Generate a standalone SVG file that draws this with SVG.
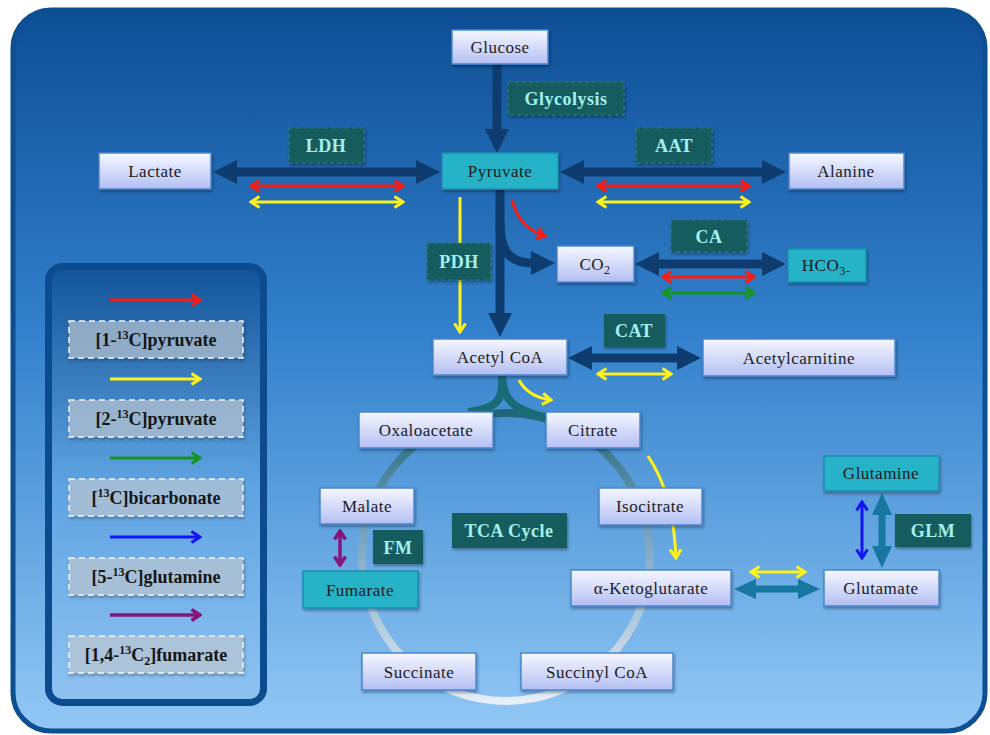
<svg xmlns="http://www.w3.org/2000/svg" width="990" height="735" viewBox="0 0 990 735">
<defs>
<linearGradient id="bg" x1="0" y1="0" x2="0" y2="1">
<stop offset="0" stop-color="#0d4e95"/>
<stop offset="0.45" stop-color="#3381cc"/>
<stop offset="1" stop-color="#92c8f5"/>
</linearGradient>
<linearGradient id="lg" x1="0" y1="0" x2="0" y2="1">
<stop offset="0" stop-color="#125499"/>
<stop offset="0.5" stop-color="#5ea3e2"/>
<stop offset="1" stop-color="#8fc3f1"/>
</linearGradient>
<linearGradient id="nodeFill" x1="0" y1="0" x2="0" y2="1">
<stop offset="0" stop-color="#f6f7ff"/>
<stop offset="1" stop-color="#b3bff3"/>
</linearGradient>
<linearGradient id="ringGrad" gradientUnits="userSpaceOnUse" x1="0" y1="413" x2="0" y2="701">
<stop offset="0" stop-color="#22657a"/>
<stop offset="0.45" stop-color="#7da7c4"/>
<stop offset="1" stop-color="#e6eef8"/>
</linearGradient>
<filter id="sh" x="-10%" y="-20%" width="125%" height="150%">
<feDropShadow dx="1" dy="2" stdDeviation="1.5" flood-color="#000" flood-opacity="0.35"/>
</filter>
<marker id="mDark" viewBox="0 0 24 24" markerUnits="userSpaceOnUse" markerWidth="24" markerHeight="24" refX="2" refY="12" orient="auto-start-reverse">
<path d="M0,0 L24,12 L0,24 z" fill="#0e3c6e"/>
</marker>
<marker id="mTeal" viewBox="0 0 22 20" markerUnits="userSpaceOnUse" markerWidth="22" markerHeight="20" refX="2" refY="10" orient="auto-start-reverse">
<path d="M0,0 L22,10 L0,20 z" fill="#1677a0"/>
</marker>
<marker id="mRed" viewBox="0 0 12 14" markerUnits="userSpaceOnUse" markerWidth="12" markerHeight="14" refX="10" refY="7" orient="auto-start-reverse">
<path d="M1.5,1.5 L10,7 L1.5,12.5" fill="none" stroke="#ff1a10" stroke-width="3"/>
</marker>
<marker id="mYel" viewBox="0 0 12 14" markerUnits="userSpaceOnUse" markerWidth="12" markerHeight="14" refX="10" refY="7" orient="auto-start-reverse">
<path d="M1.5,1.5 L10,7 L1.5,12.5" fill="none" stroke="#fff21a" stroke-width="3"/>
</marker>
<marker id="mGrn" viewBox="0 0 12 14" markerUnits="userSpaceOnUse" markerWidth="12" markerHeight="14" refX="10" refY="7" orient="auto-start-reverse">
<path d="M1.5,1.5 L10,7 L1.5,12.5" fill="none" stroke="#14961e" stroke-width="3"/>
</marker>
<marker id="mBlu" viewBox="0 0 12 14" markerUnits="userSpaceOnUse" markerWidth="12" markerHeight="14" refX="10" refY="7" orient="auto-start-reverse">
<path d="M1.5,1.5 L10,7 L1.5,12.5" fill="none" stroke="#1414f0" stroke-width="3"/>
</marker>
<marker id="mPur" viewBox="0 0 12 14" markerUnits="userSpaceOnUse" markerWidth="12" markerHeight="14" refX="10" refY="7" orient="auto-start-reverse">
<path d="M1.5,1.5 L10,7 L1.5,12.5" fill="none" stroke="#86157a" stroke-width="3.5"/>
</marker>
</defs>
<style>
.node rect{fill:url(#nodeFill);stroke:#4a86d0;stroke-width:1.5;filter:url(#sh)}
.node.teal rect{fill:#26b3c7;stroke:#1d8fb0}
.node text{font-family:"Liberation Serif",serif;font-size:17px;fill:#1c1c1c;text-anchor:middle;letter-spacing:0.5px}
.enz rect{fill:#135b5f;stroke:#2e8080;stroke-width:1.2;stroke-dasharray:4 3;filter:url(#sh)}
.enz.solid rect{stroke:none}
.enz text{font-family:"Liberation Serif",serif;font-weight:bold;font-size:18px;fill:#a2f0ec;text-anchor:middle;letter-spacing:0.5px}
.dark{stroke:#0e3c6e;stroke-width:9;fill:none;marker-end:url(#mDark)}
.dark2{marker-start:url(#mDark)}
.tealc{stroke:#1677a0;stroke-width:7;fill:none;marker-end:url(#mTeal);marker-start:url(#mTeal)}
.red{stroke:#ff1a10;stroke-width:3;fill:none;marker-end:url(#mRed)}
.yel{stroke:#fff21a;stroke-width:3;fill:none;marker-end:url(#mYel)}
.grn{stroke:#14961e;stroke-width:3;fill:none;marker-end:url(#mGrn)}
.blu{stroke:#1414f0;stroke-width:3;fill:none;marker-end:url(#mBlu)}
.pur{stroke:#86157a;stroke-width:3.5;fill:none;marker-end:url(#mPur)}
.red.bi{marker-start:url(#mRed)}
.yel.bi{marker-start:url(#mYel)}
.grn.bi{marker-start:url(#mGrn)}
.blu.bi{marker-start:url(#mBlu)}
.pur.bi{marker-start:url(#mPur)}
.leg rect{fill:#c9d2dc;fill-opacity:0.6;stroke:#eef3f8;stroke-width:1.5;stroke-dasharray:6 4;filter:url(#sh)}
.leg text{font-family:"Liberation Serif",serif;font-weight:bold;font-size:18px;fill:#161616;text-anchor:middle}
</style>
<!-- background -->
<rect x="13" y="10" width="972" height="721" rx="38" fill="url(#bg)" stroke="#0d4f93" stroke-width="5"/>
<!-- legend panel -->
<rect id="legend-panel" x="48.5" y="266.5" width="215" height="436" rx="14" fill="url(#lg)" stroke="#0c4b8e" stroke-width="7"/>
<!-- TCA ring -->
<circle id="tca-ring" cx="506" cy="557" r="144" fill="none" stroke="url(#ringGrad)" stroke-width="8"/>
<g id="connectors">
<path class="dark" d="M497,64 L497,131"/>
<path class="dark dark2" d="M235,172 L418,172"/>
<path class="dark dark2" d="M582,172 L764,172"/>
<path class="dark" d="M500,190 L500,315"/>
<path class="dark" d="M500,222 C500,250 508,263 533,263"/>
<path class="dark dark2" d="M657,264 L764,264"/>
<path class="dark dark2" d="M590,358 L679,358"/>
<path class="tealc" d="M754,589 L800,589"/>
<path class="tealc" d="M882,513 L882,548"/>
<path d="M502,376 C503,398 500,408 468,412" fill="none" stroke="#1a6b78" stroke-width="8"/>
<path d="M502,376 C503,402 515,410 548,418" fill="none" stroke="#1a6b78" stroke-width="8"/>
<path class="red bi" d="M251,186 L403,186"/>
<path class="yel bi" d="M251,202 L403,202"/>
<path class="red bi" d="M598,186 L749,186"/>
<path class="yel bi" d="M598,202 L749,202"/>
<path class="red" d="M512,200 Q519,228 545,236"/>
<path class="yel" d="M460,197 L460,332"/>
<path class="red bi" d="M663,277 L754,277"/>
<path class="grn bi" d="M663,293 L754,293"/>
<path class="yel bi" d="M598,374 L671,374"/>
<path class="yel" d="M519,380 Q528,397 551,400"/>
<path class="yel" d="M648,456 C664,480 674,510 676,558"/>
<path class="yel bi" d="M751,572 L805,572"/>
<path class="blu bi" d="M862,502 L862,558"/>
<path class="pur bi" d="M340,531 L340,565"/>
</g>
<g id="glucose" class="node"><rect x="452" y="30" width="96" height="34"/><text x="500" y="53">Glucose</text></g>
<g id="pyruvate" class="node teal"><rect x="442" y="153" width="116" height="36"/><text x="500" y="177">Pyruvate</text></g>
<g id="lactate" class="node"><rect x="99" y="153" width="112" height="36"/><text x="155" y="177">Lactate</text></g>
<g id="alanine" class="node"><rect x="789" y="153" width="115" height="36"/><text x="846" y="177">Alanine</text></g>
<g id="co2" class="node"><rect x="557" y="246" width="77" height="36"/><text x="595" y="270">CO<tspan dy="4" font-size="12">2</tspan></text></g>
<g id="hco3" class="node teal"><rect x="788" y="249" width="78" height="33"/><text x="826" y="271">HCO<tspan dy="4" font-size="12">3-</tspan></text></g>
<g id="acetylcoa" class="node"><rect x="433" y="339" width="134" height="36"/><text x="500" y="363">Acetyl CoA</text></g>
<g id="acetylcarnitine" class="node"><rect x="703" y="339" width="192" height="37"/><text x="799" y="364">Acetylcarnitine</text></g>
<g id="oxaloacetate" class="node"><rect x="359" y="412" width="134" height="36"/><text x="426" y="436">Oxaloacetate</text></g>
<g id="citrate" class="node"><rect x="546" y="412" width="94" height="36"/><text x="593" y="436">Citrate</text></g>
<g id="malate" class="node"><rect x="320" y="488" width="94" height="36"/><text x="367" y="512">Malate</text></g>
<g id="isocitrate" class="node"><rect x="599" y="488" width="103" height="37"/><text x="650" y="512">Isocitrate</text></g>
<g id="fumarate" class="node teal"><rect x="303" y="571" width="115" height="37"/><text x="360" y="596">Fumarate</text></g>
<g id="akg" class="node"><rect x="571" y="570" width="160" height="36"/><text x="651" y="594">α-Ketoglutarate</text></g>
<g id="glutamine" class="node teal"><rect x="824" y="456" width="115" height="35"/><text x="881" y="479">Glutamine</text></g>
<g id="glutamate" class="node"><rect x="824" y="570" width="115" height="36"/><text x="881" y="594">Glutamate</text></g>
<g id="succinate" class="node"><rect x="362" y="653" width="114" height="37"/><text x="419" y="678">Succinate</text></g>
<g id="succinylcoa" class="node"><rect x="521" y="653" width="152" height="37"/><text x="597" y="678">Succinyl CoA</text></g>
<g id="glycolysis" class="enz"><rect x="508" y="82" width="116" height="33"/><text x="566" y="105">Glycolysis</text></g>
<g id="ldh" class="enz"><rect x="289" y="128" width="75" height="35"/><text x="326" y="152">LDH</text></g>
<g id="aat" class="enz"><rect x="636" y="128" width="76" height="35"/><text x="674" y="152">AAT</text></g>
<g id="pdh" class="enz"><rect x="427" y="243" width="64" height="37"/><text x="459" y="268">PDH</text></g>
<g id="ca" class="enz"><rect x="671" y="220" width="76" height="32"/><text x="709" y="243">CA</text></g>
<g id="cat" class="enz solid"><rect x="604" y="314" width="61" height="33"/><text x="634" y="337">CAT</text></g>
<g id="tcacycle" class="enz solid"><rect x="452" y="513" width="115" height="35"/><text x="509" y="537">TCA Cycle</text></g>
<g id="fm" class="enz solid"><rect x="373" y="530" width="50" height="34"/><text x="398" y="554">FM</text></g>
<g id="glm" class="enz solid"><rect x="895" y="514" width="76" height="33"/><text x="933" y="537">GLM</text></g>
<g id="legend">
<path class="red" d="M110,300 L200,300"/>
<g class="leg"><rect x="69" y="321" width="174" height="37"/><text x="156" y="346">[1-<tspan dy="-7" font-size="12">13</tspan><tspan dy="7">C]pyruvate</tspan></text></g>
<path class="yel" d="M110,379 L200,379"/>
<g class="leg"><rect x="69" y="400" width="174" height="37"/><text x="156" y="425">[2-<tspan dy="-7" font-size="12">13</tspan><tspan dy="7">C]pyruvate</tspan></text></g>
<path class="grn" d="M110,458 L200,458"/>
<g class="leg"><rect x="69" y="479" width="174" height="37"/><text x="156" y="504">[<tspan dy="-7" font-size="12">13</tspan><tspan dy="7">C]bicarbonate</tspan></text></g>
<path class="blu" d="M110,537 L200,537"/>
<g class="leg"><rect x="69" y="558" width="174" height="37"/><text x="156" y="583">[5-<tspan dy="-7" font-size="12">13</tspan><tspan dy="7">C]glutamine</tspan></text></g>
<path class="pur" d="M110,615 L200,615"/>
<g class="leg"><rect x="69" y="636" width="174" height="37"/><text x="156" y="661">[1,4-<tspan dy="-7" font-size="12">13</tspan><tspan dy="7">C</tspan><tspan dy="4" font-size="12">2</tspan><tspan dy="-4">]fumarate</tspan></text></g>
</g>
</svg>
